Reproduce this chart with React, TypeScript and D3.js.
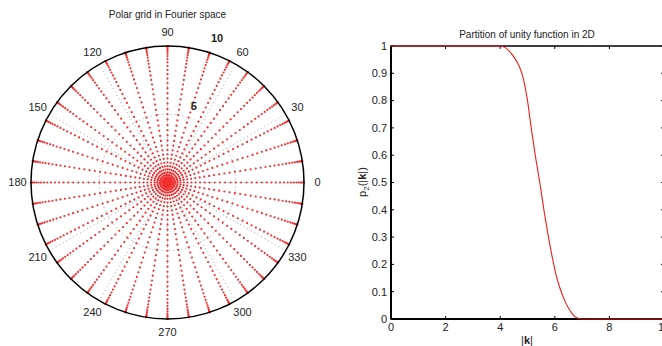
import * as d3 from "d3";

// polar grid: spoke angles (deg) and radial node positions along each spoke
const spokeAngles = [0, 9, 18, 27, 36, 45, 54, 63, 72, 81, 90, 99, 108, 117, 126, 135, 144, 153, 162, 171,
  180, 189, 198, 207, 216, 225, 234, 243, 252, 261, 270, 279, 288, 297, 306, 315, 324, 333, 342, 351];
const radialNodes = [0, 0.015, 0.062, 0.138, 0.245, 0.381, 0.545, 0.737, 0.955, 1.198, 1.464, 1.753,
  2.061, 2.388, 2.730, 3.087, 3.455, 3.833, 4.218, 4.608, 5, 5.392, 5.782, 6.167, 6.545, 6.913, 7.270,
  7.612, 7.939, 8.247, 8.536, 8.802, 9.045, 9.263, 9.455, 9.619, 9.755, 9.862, 9.938, 9.985, 10];
const angleLabels = [0, 30, 60, 90, 120, 150, 180, 210, 240, 270, 300, 330];
const ringTicks = [5, 10];

// partition of unity curve
const kValues = [0, 3.9, 4.1, 4.3, 4.5, 4.7, 4.85, 5.0, 5.15, 5.3, 5.45, 5.6, 5.75, 5.9, 6.05, 6.2, 6.35, 6.5, 6.65, 6.8, 7.0, 10];
const pValues = [1, 1, 0.998, 0.985, 0.96, 0.925, 0.88, 0.8, 0.69, 0.59, 0.5, 0.4, 0.31, 0.23, 0.16, 0.11, 0.07, 0.04, 0.018, 0.005, 0, 0];
const xTicks = [0, 2, 4, 6, 8, 10];
const yTicks = [0, 0.1, 0.2, 0.3, 0.4, 0.5, 0.6, 0.7, 0.8, 0.9, 1];

const font = "'Liberation Sans', Arial, sans-serif";
const txt = "#222";

function PolarGrid() {
  const cx = 167.5, cy = 182.5;
  const r = d3.scaleLinear().domain([0, 10]).range([0, 136.5]);
  const pt = (deg: number, rad: number) => {
    const a = (deg * Math.PI) / 180;
    return [cx + rad * Math.cos(a), cy - rad * Math.sin(a)];
  };
  const gridSpokes = angleLabels;
  return (
    <g>
      <text x={cx} y={18} textAnchor="middle" fontSize={10} fill={txt} fontFamily={font}>Polar grid in Fourier space</text>
      {/* dotted gray grid */}
      <circle cx={cx} cy={cy} r={r(5)} fill="none" stroke="#888" strokeWidth={0.8} strokeDasharray="1,3" />
      {gridSpokes.map(a => {
        const [x2, y2] = pt(a, r(10));
        return <line key={a} x1={cx} y1={cy} x2={x2} y2={y2} stroke="#888" strokeWidth={0.8} strokeDasharray="1,3" />;
      })}
      {/* red grid nodes */}
      {spokeAngles.map(a => (
        <g key={a}>
          {radialNodes.map((v, i) => {
            const [x, y] = pt(a, r(v));
            return <circle key={i} cx={x} cy={y} r={1.1} fill="#f03030" />;
          })}
        </g>
      ))}
      <circle cx={cx} cy={cy} r={r(10)} fill="none" stroke="#000" strokeWidth={1.5} />
      {angleLabels.map(a => {
        const [x, y] = pt(a, 150);
        return <text key={a} x={x} y={y} dy="0.35em" textAnchor="middle" fontSize={11} fill={txt} fontFamily={font}>{a}</text>;
      })}
      {ringTicks.map(v => {
        const [x, y] = pt(71, r(v) * 1.05 + 9);
        return <text key={v} x={x} y={y} dy="0.35em" textAnchor="middle" fontSize={11} fontWeight="bold" fill={txt} fontFamily={font}>{v}</text>;
      })}
    </g>
  );
}

function PartitionPlot() {
  const x = d3.scaleLinear().domain([0, 10]).range([391, 664]);
  const y = d3.scaleLinear().domain([0, 1]).range([319, 46]);
  const data = kValues.map((k, i) => [k, pValues[i]] as [number, number]);
  const line = d3.line<[number, number]>().x(d => x(d[0])).y(d => y(d[1])).curve(d3.curveMonotoneX);
  return (
    <g fontFamily={font}>
      <text x={527} y={38} textAnchor="middle" fontSize={10} fill={txt}>Partition of unity function in 2D</text>
      {/* ticks */}
      {xTicks.map(t => (
        <g key={t}>
          <line x1={x(t)} x2={x(t)} y1={y(0)} y2={y(0) - 3} stroke="#000" />
          <line x1={x(t)} x2={x(t)} y1={y(1)} y2={y(1) + 3} stroke="#000" />
          <text x={x(t)} y={331} textAnchor="middle" fontSize={11} fill={txt}>{t}</text>
        </g>
      ))}
      {yTicks.map(t => (
        <g key={t}>
          <line x1={x(0)} x2={x(0) + 3} y1={y(t)} y2={y(t)} stroke="#000" />
          <line x1={x(10)} x2={x(10) - 3} y1={y(t)} y2={y(t)} stroke="#000" />
          <text x={387} y={y(t)} dy="0.35em" textAnchor="end" fontSize={11} fill={txt}>{d3.format("~g")(t)}</text>
        </g>
      ))}
      <rect x={x(0)} y={y(1)} width={x(10) - x(0)} height={y(0) - y(1)} fill="none" stroke="#000" strokeWidth={1.5} />
      <line x1={x(0)} x2={x(0)} y1={y(0)} y2={y(1)} stroke="#000" strokeWidth={2} />
      <line x1={x(0)} x2={x(10)} y1={y(0)} y2={y(0)} stroke="#000" strokeWidth={2} />
      <path d={line(data) ?? ""} fill="none" stroke="#e82020" strokeWidth={1.1} />
      <text x={527} y={344} textAnchor="middle" fontSize={11} fill={txt}>|<tspan fontWeight="bold">k</tspan>|</text>
      <text transform="translate(366,182) rotate(-90)" textAnchor="middle" fontSize={11} fill={txt}>
        p<tspan fontSize={8} dy={3}>2</tspan><tspan dy={-3}>(|</tspan><tspan fontWeight="bold">k</tspan>|)
      </text>
    </g>
  );
}

export default function App() {
  return (
    <div>
      <style>{"body{margin:0}"}</style>
      <svg width={662} height={346} style={{ display: "block", background: "#fff" }}>
        <PolarGrid />
        <PartitionPlot />
      </svg>
    </div>
  );
}
